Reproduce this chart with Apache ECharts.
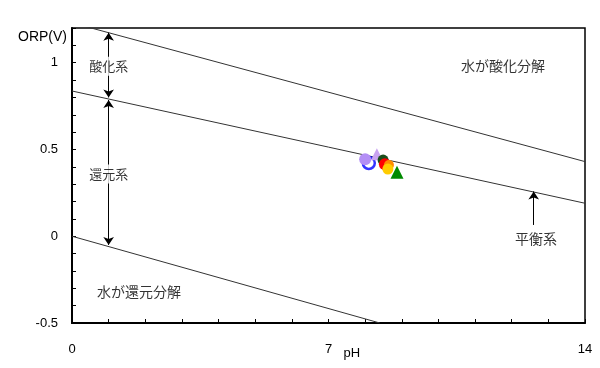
<!DOCTYPE html>
<html><head><meta charset="utf-8">
<script src="https://cdn.jsdelivr.net/npm/echarts@6/dist/echarts.min.js"></script>
<style>html,body{margin:0;padding:0;background:#fff}#c{width:600px;height:368px}</style>
</head><body><div id="c"></div>
<script>
// boundary lines (pH, ORP V)
const upperLine = [[0, 1.23], [14, 0.43]];
const middleLine = [[0, 0.837], [14, 0.19]];
const lowerLine = [[0, 0], [8.4, -0.5]];
// arrows
const arrowOx = [[1, 1.173], [1, 0.80]];
const arrowRed = [[1, 0.785], [1, -0.05]];
const arrowEq = [[12.6, 0.065], [12.6, 0.258]];
// measured points
const ptBlueRing = [[8.1, 0.422]];
const ptPurple = [[8.0, 0.444]];
const ptLavTri = [[8.32, 0.473]];
const ptDkGreen = [[8.49, 0.439]];
const ptRed = [[8.54, 0.415]];
const ptOrange = [[8.65, 0.41]];
const ptYellow = [[8.62, 0.387]];
const ptGreenTri = [[8.87, 0.369]];
// annotations
const labelsBoxed = [{value: [1, 0.98], name: '酸化系'}, {value: [1, 0.358], name: '還元系'}];
const labelsPlain = [{value: [11.76, 0.98], name: '水が酸化分解'}, {value: [1.83, -0.317], name: '水が還元分解'}, {value: [12.66, -0.017], name: '平衡系'}];
const xTickLabels = [0, 7, 14];
const yTickLabels = [-0.5, 0, 0.5, 1];

const FONT = '"Noto Sans CJK JP", "Noto Sans", sans-serif';
const NUMFONT = '"Liberation Sans", Arial, sans-serif';
const chart = echarts.init(document.getElementById('c'), null, {renderer: 'canvas'});
function lineSeries(d) {
  return {type: 'line', data: d, symbol: 'none', silent: true, clip: true,
    lineStyle: {color: '#333', width: 1}, z: 2};
}
function arrow(d, both) {
  return {type: 'lines', coordinateSystem: 'cartesian2d', silent: true,
    symbol: both ? ['arrow', 'arrow'] : ['none', 'arrow'], symbolSize: 8,
    lineStyle: {color: '#000', width: 1, opacity: 1}, data: [{coords: d}], z: 3};
}
function pts(d, color, symbol, size, z, extra) {
  return Object.assign({type: 'scatter', data: d, symbol: symbol, symbolSize: size,
    itemStyle: {color: color, opacity: 1}, z: z}, extra || {});
}
function near(v, arr) { return arr.some(a => Math.abs(a - v) < 1e-6); }
chart.setOption({
  animation: false,
  grid: {left: 72, right: 15, top: 28, bottom: 45, show: true, borderColor: '#000', borderWidth: 1.5,
    backgroundColor: 'transparent', containLabel: false, outerBoundsMode: 'none'},
  xAxis: {type: 'value', min: 0, max: 14, interval: 1,
    name: 'pH', nameLocation: 'middle', nameGap: 24, nameMoveOverlap: false,
    nameTextStyle: {color: '#000', fontSize: 13, fontFamily: NUMFONT, align: 'left', padding: [0, 0, 0, 15]},
    axisLine: {onZero: false, lineStyle: {color: '#000', width: 2}},
    axisTick: {inside: true, length: 4, lineStyle: {color: '#000'}},
    splitLine: {show: false},
    axisLabel: {margin: 20, color: '#000', fontSize: 13, fontFamily: NUMFONT,
      formatter: v => near(v, xTickLabels) ? String(Math.round(v)) : ''}},
  yAxis: {type: 'value', min: -0.5, max: 1.2, interval: 0.1,
    name: 'ORP(V)', nameLocation: 'end', nameGap: -9, nameMoveOverlap: false,
    nameTextStyle: {color: '#000', fontSize: 14, fontFamily: NUMFONT, align: 'right', verticalAlign: 'middle', padding: [0, 5, 0, 0]},
    axisLine: {onZero: false, lineStyle: {color: '#000', width: 2}},
    axisTick: {inside: true, length: 4, lineStyle: {color: '#000'}},
    splitLine: {show: false},
    axisLabel: {margin: 14, color: '#000', fontSize: 13, fontFamily: NUMFONT,
      formatter: v => near(v, yTickLabels) ? String(Math.round(v * 10) / 10) : ''}},
  series: [
    lineSeries(upperLine), lineSeries(middleLine), lineSeries(lowerLine),
    arrow(arrowOx, true), arrow(arrowRed, true), arrow(arrowEq, false),
    pts(ptBlueRing, 'rgba(0,0,0,0)', 'circle', 12, 4, {itemStyle: {color: 'rgba(0,0,0,0)', borderColor: '#0000ff', borderWidth: 2.5}}),
    pts(ptPurple, '#b38ef5', 'circle', 12, 6),
    pts(ptLavTri, '#c9a3f0', 'triangle', 12, 6),
    pts(ptDkGreen, '#1a4d1a', 'circle', 11, 6),
    pts(ptRed, '#ff0000', 'circle', 12, 7),
    pts(ptOrange, '#ff8c00', 'circle', 10, 7),
    pts(ptYellow, '#ffcc00', 'circle', 11, 8),
    pts(ptGreenTri, '#008a00', 'triangle', 13, 8),
    {type: 'scatter', data: labelsBoxed, symbolSize: 0, silent: true, z: 9,
      label: {show: true, position: 'inside', formatter: p => p.name, color: '#000', fontSize: 13,
        fontFamily: FONT, backgroundColor: '#fff', padding: [3, 2]}},
    {type: 'scatter', data: labelsPlain, symbolSize: 0, silent: true, z: 9,
      label: {show: true, position: 'inside', formatter: p => p.name, color: '#000', fontSize: 14,
        fontFamily: FONT}}
  ]
});
</script></body></html>
